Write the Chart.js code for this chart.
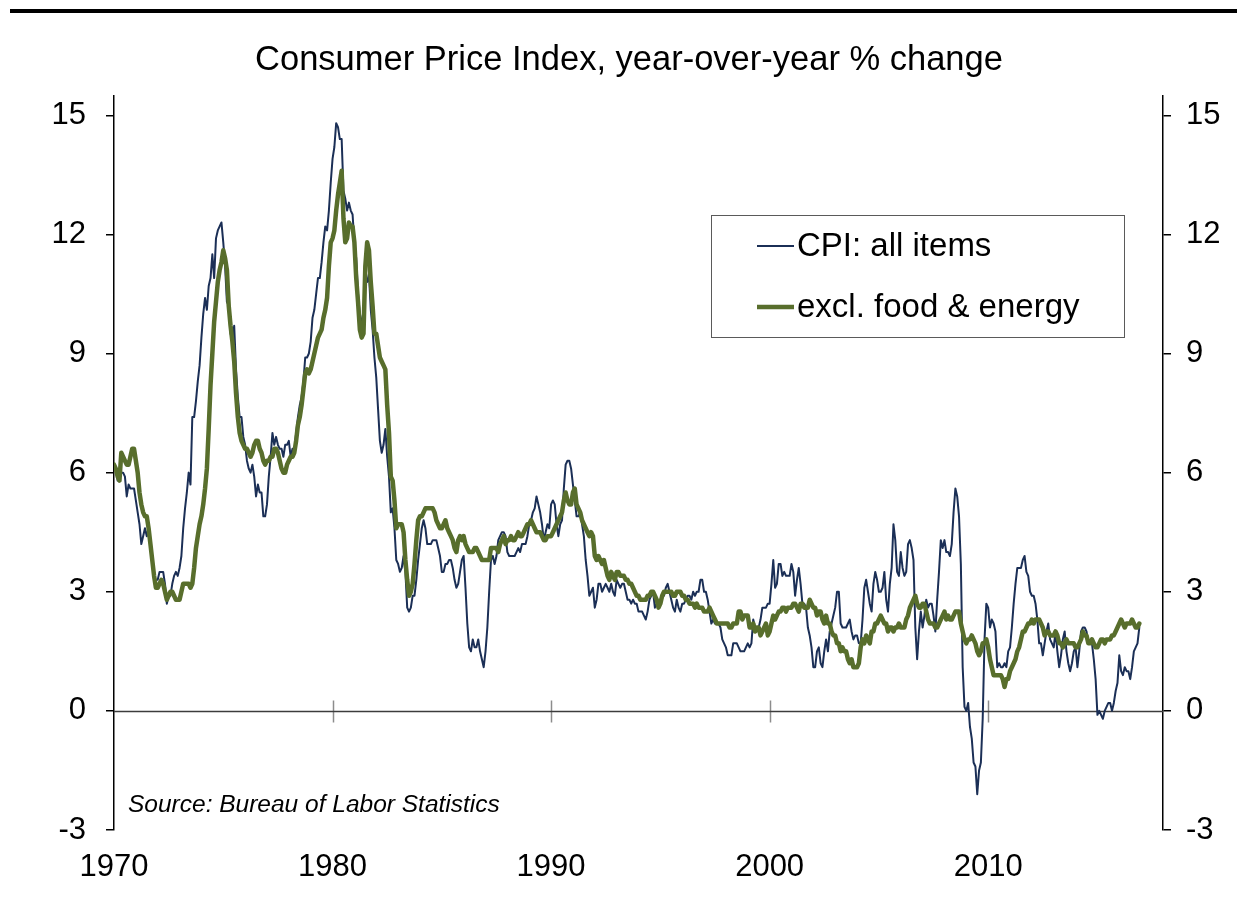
<!DOCTYPE html>
<html><head><meta charset="utf-8">
<script src="https://cdn.jsdelivr.net/npm/chart.js@4.4.1/dist/chart.umd.min.js"></script>
<style>
html,body{margin:0;padding:0;background:#fff;}
#wrap{position:relative;width:1237px;height:921px;}
</style></head><body>
<div id="wrap"><canvas id="c" width="1237" height="921"></canvas></div>
<script>
// ---- data (monthly, Jan 1970 - Dec 2016) ----
const startYear = 1970;
const seriesNames = ['CPI: all items', 'excl. food & energy'];
const titleText = 'Consumer Price Index, year-over-year % change';
const sourceText = 'Source: Bureau of Labor Statistics';
const xTickYears = [1970, 1980, 1990, 2000, 2010];
const yTickValues = [-3, 0, 3, 6, 9, 12, 15];

const cpiAll = [
6.2,6.1,5.8,6.1,6.0,6.0,5.9,5.4,5.7,5.6,5.6,5.6,
5.3,5.0,4.7,4.2,4.4,4.6,4.4,4.6,4.1,3.8,3.3,3.3,
3.3,3.5,3.5,3.5,3.2,2.7,2.9,2.9,3.2,3.4,3.5,3.4,
3.6,3.9,4.6,5.1,5.5,6.0,5.7,7.4,7.4,7.8,8.3,8.7,
9.4,10.0,10.4,10.1,10.7,10.9,11.5,10.9,11.9,12.1,12.2,12.3,
11.8,11.2,10.3,10.2,9.5,9.3,9.7,8.6,7.9,7.4,7.4,6.9,
6.7,6.3,6.1,6.0,6.2,5.9,5.4,5.7,5.5,5.5,4.9,4.9,
5.2,5.9,6.4,7.0,6.7,6.9,6.7,6.6,6.6,6.4,6.7,6.7,
6.8,6.4,6.6,6.5,7.0,7.4,7.7,7.9,8.3,8.9,8.9,9.0,
9.3,9.9,10.1,10.5,10.9,10.9,11.3,11.8,12.2,12.1,12.6,13.3,
13.9,14.2,14.8,14.7,14.4,14.4,13.1,12.9,12.6,12.8,12.6,12.5,
11.8,11.4,10.5,10.0,9.8,9.6,10.8,10.8,11.0,10.1,9.6,8.9,
8.4,7.6,6.8,6.5,6.7,7.1,6.4,5.9,5.0,5.1,4.6,3.8,
3.7,3.5,3.6,3.9,3.5,2.6,2.5,2.6,2.9,2.9,3.3,3.8,
4.2,4.6,4.8,4.6,4.2,4.2,4.2,4.3,4.3,4.3,4.1,3.9,
3.5,3.5,3.7,3.7,3.8,3.8,3.6,3.3,3.1,3.2,3.5,3.8,
3.9,3.1,2.2,1.6,1.5,1.8,1.6,1.6,1.8,1.5,1.3,1.1,
1.5,2.1,3.0,3.8,3.9,3.7,3.9,4.3,4.4,4.5,4.5,4.4,
4.0,3.9,3.9,3.9,3.9,4.0,4.1,4.0,4.2,4.2,4.2,4.4,
4.7,4.8,5.0,5.1,5.4,5.2,5.0,4.7,4.3,4.5,4.7,4.6,
5.2,5.3,5.2,4.7,4.4,4.7,4.8,5.6,6.2,6.3,6.3,6.1,
5.7,5.3,4.9,4.9,5.0,4.7,4.4,3.8,3.4,2.9,3.0,3.1,
2.6,2.8,3.2,3.2,3.0,3.1,3.2,3.1,3.0,3.2,3.0,2.9,
3.3,3.2,3.1,3.2,3.2,3.0,2.8,2.8,2.7,2.8,2.7,2.7,
2.5,2.5,2.5,2.4,2.3,2.5,2.8,2.9,3.0,2.6,2.7,2.7,
2.8,2.9,2.9,3.1,3.2,3.0,2.8,2.6,2.5,2.8,2.6,2.5,
2.7,2.7,2.8,2.9,2.9,2.8,3.0,2.9,3.0,3.0,3.3,3.3,
3.0,3.0,2.8,2.5,2.2,2.3,2.2,2.2,2.2,2.1,1.8,1.7,
1.6,1.4,1.4,1.4,1.7,1.7,1.7,1.6,1.5,1.5,1.5,1.6,
1.7,1.6,1.7,2.3,2.1,2.0,2.1,2.3,2.6,2.6,2.6,2.7,
2.7,3.2,3.8,3.1,3.2,3.7,3.7,3.4,3.5,3.4,3.4,3.4,
3.7,3.5,2.9,3.3,3.6,3.2,2.7,2.7,2.6,2.1,1.9,1.6,
1.1,1.1,1.5,1.6,1.2,1.1,1.5,1.8,1.5,2.0,2.2,2.4,
2.6,3.0,3.0,2.2,2.1,2.1,2.1,2.2,2.3,2.0,1.8,1.9,
1.9,1.7,1.7,2.3,3.1,3.3,3.0,2.7,2.5,3.2,3.5,3.3,
3.0,3.0,3.1,3.5,2.8,2.5,3.2,3.6,4.7,4.3,3.5,3.4,
4.0,3.6,3.4,3.5,4.2,4.3,4.1,3.8,2.1,1.3,2.0,2.5,
2.1,2.4,2.8,2.6,2.7,2.7,2.4,2.0,2.8,3.5,4.3,4.1,
4.3,4.0,4.0,3.9,4.2,5.0,5.6,5.4,4.9,3.7,1.1,0.1,
0.0,0.2,-0.4,-0.7,-1.3,-1.4,-2.1,-1.5,-1.3,-0.2,1.8,2.7,
2.6,2.1,2.3,2.2,2.0,1.1,1.2,1.1,1.1,1.2,1.1,1.5,
1.6,2.1,2.7,3.2,3.6,3.6,3.6,3.8,3.9,3.5,3.4,3.0,
2.9,2.9,2.7,2.3,1.7,1.7,1.4,1.7,2.0,2.2,1.8,1.7,
1.6,2.0,1.5,1.1,1.4,1.8,2.0,1.5,1.2,1.0,1.2,1.5,
1.6,1.1,1.5,2.0,2.1,2.1,2.0,1.7,1.7,1.7,1.3,0.8,
-0.1,0.0,-0.1,-0.2,0.0,0.1,0.2,0.2,0.0,0.2,0.5,0.7,
1.4,1.0,0.9,1.1,1.0,1.0,0.8,1.1,1.5,1.6,1.7,2.1
];

const cpiCore = [
6.2,6.1,5.9,5.8,6.5,6.4,6.3,6.2,6.2,6.4,6.6,6.6,
6.3,6.0,5.5,5.2,5.0,4.9,4.9,4.6,4.2,3.8,3.4,3.1,
3.1,3.2,3.3,3.2,3.0,2.8,2.9,3.0,3.0,2.9,2.8,2.8,
2.8,3.0,3.2,3.2,3.2,3.2,3.1,3.2,3.6,4.1,4.4,4.7,
4.9,5.2,5.6,6.1,7.1,8.2,9.0,9.8,10.3,10.8,11.1,11.3,
11.6,11.4,11.1,10.2,9.7,9.3,8.8,8.0,7.4,7.0,6.8,6.7,
6.6,6.6,6.5,6.4,6.5,6.7,6.8,6.8,6.6,6.5,6.3,6.2,
6.3,6.3,6.4,6.4,6.6,6.6,6.5,6.3,6.1,6.0,6.0,6.2,
6.3,6.4,6.4,6.5,6.8,7.2,7.4,7.7,8.1,8.5,8.6,8.5,
8.6,8.8,9.0,9.2,9.4,9.5,9.6,9.9,10.1,10.4,11.2,11.8,
11.9,12.1,12.6,13.0,13.3,13.6,12.4,11.8,11.9,12.3,12.2,12.2,
11.8,10.9,10.3,9.6,9.4,9.5,11.2,11.8,11.6,10.8,10.2,9.5,
9.5,9.2,8.9,8.8,8.7,8.6,7.7,7.0,5.9,5.8,5.3,4.6,
4.7,4.7,4.7,4.5,3.8,3.3,2.9,3.0,3.2,3.7,4.3,4.8,
4.9,4.9,5.0,5.1,5.1,5.1,5.1,5.1,5.0,4.8,4.7,4.6,
4.6,4.7,4.8,4.6,4.5,4.4,4.3,4.1,4.0,4.3,4.4,4.3,
4.4,4.2,4.1,4.0,4.0,4.0,4.1,4.1,4.0,3.9,3.8,3.8,
3.8,3.8,3.8,4.1,4.1,4.1,4.1,4.0,4.2,4.3,4.4,4.2,
4.3,4.3,4.4,4.3,4.3,4.4,4.5,4.4,4.4,4.5,4.6,4.7,
4.7,4.8,4.7,4.6,4.5,4.5,4.5,4.4,4.3,4.3,4.4,4.4,
4.4,4.5,4.6,4.7,4.8,4.9,5.0,5.3,5.5,5.3,5.2,5.2,
5.5,5.6,5.2,5.1,5.0,4.8,4.7,4.6,4.5,4.4,4.5,4.4,
3.9,3.8,3.9,3.8,3.7,3.8,3.6,3.4,3.3,3.5,3.4,3.3,
3.5,3.5,3.4,3.4,3.4,3.3,3.3,3.2,3.2,3.1,3.0,2.9,
2.9,2.8,2.8,2.8,2.8,2.9,2.9,3.0,3.0,2.9,2.8,2.6,
2.7,2.9,3.0,3.0,3.0,3.0,3.0,2.9,2.9,3.0,3.0,3.0,
2.9,2.9,2.8,2.8,2.7,2.7,2.7,2.6,2.7,2.6,2.6,2.6,
2.5,2.5,2.5,2.6,2.5,2.4,2.3,2.2,2.2,2.2,2.2,2.2,
2.2,2.2,2.1,2.1,2.2,2.2,2.2,2.5,2.5,2.3,2.4,2.4,
2.4,2.1,2.1,2.2,2.0,2.1,2.1,1.9,2.0,2.1,2.2,1.9,
2.0,2.2,2.4,2.3,2.4,2.5,2.5,2.6,2.6,2.5,2.6,2.6,
2.6,2.7,2.7,2.6,2.5,2.7,2.7,2.6,2.6,2.6,2.8,2.7,
2.6,2.6,2.4,2.5,2.5,2.3,2.2,2.4,2.2,2.2,2.0,1.9,
1.9,1.7,1.7,1.5,1.6,1.5,1.5,1.3,1.2,1.3,1.1,1.1,
1.1,1.2,1.6,1.8,1.7,1.9,1.8,1.7,2.0,2.0,2.2,2.2,
2.3,2.4,2.3,2.2,2.2,2.0,2.1,2.1,2.0,2.1,2.1,2.2,
2.1,2.1,2.1,2.3,2.4,2.6,2.7,2.8,2.9,2.7,2.6,2.6,
2.7,2.7,2.5,2.3,2.2,2.2,2.2,2.1,2.1,2.2,2.3,2.4,
2.5,2.3,2.4,2.3,2.3,2.4,2.5,2.5,2.5,2.2,2.0,1.8,
1.7,1.8,1.8,1.9,1.8,1.7,1.5,1.4,1.5,1.7,1.7,1.8,
1.6,1.3,1.1,0.9,0.9,0.9,0.9,0.9,0.8,0.6,0.8,0.8,
1.0,1.1,1.2,1.3,1.5,1.6,1.8,2.0,2.0,2.1,2.2,2.2,
2.3,2.2,2.3,2.3,2.3,2.2,2.1,1.9,2.0,2.0,1.9,1.9,
1.9,2.0,1.9,1.7,1.7,1.6,1.7,1.8,1.7,1.7,1.7,1.7,
1.6,1.6,1.7,1.8,2.0,1.9,1.9,1.7,1.7,1.8,1.7,1.6,
1.6,1.7,1.8,1.8,1.7,1.8,1.8,1.8,1.9,1.9,2.0,2.1,
2.2,2.3,2.2,2.1,2.2,2.2,2.2,2.3,2.2,2.1,2.1,2.2
];

// ---- styling ----
const FONT = '"Liberation Sans", Arial, sans-serif';
const CPI_COLOR = '#1b2f56';
const CORE_COLOR = '#586e2c';

function toPoints(arr) {
  return arr.map((v, i) => ({ x: startYear + i / 12, y: v }));
}

const decorations = {
  id: 'decorations',
  beforeDraw(chart) {
    const c = chart.ctx;
    c.save();
    c.fillStyle = '#fff';
    c.fillRect(0, 0, chart.width, chart.height);
    c.fillStyle = '#000';
    c.fillRect(10, 9, chart.width - 10, 4);
    c.restore();
  },
  beforeDatasetsDraw(chart) {
    const c = chart.ctx, a = chart.chartArea;
    const xs = chart.scales.x, ys = chart.scales.y;
    const y0 = Math.round(ys.getPixelForValue(0)) + 0.5;
    c.save();
    c.strokeStyle = '#8c8c8c';
    c.lineWidth = 1.5;
    xTickYears.forEach(yr => {
      if (yr === xs.min) return;
      const px = Math.round(xs.getPixelForValue(yr)) + 0.5;
      c.beginPath(); c.moveTo(px, y0 - 11); c.lineTo(px, y0 + 11); c.stroke();
    });
    c.strokeStyle = '#3c3c3c';
    c.lineWidth = 1.5;
    c.beginPath(); c.moveTo(a.left, y0); c.lineTo(a.right, y0); c.stroke();
    c.restore();
  },
  afterDraw(chart) {
    const c = chart.ctx;
    c.save();
    // legend
    const bx = 711.5, by = 215.5, bw = 413, bh = 122;
    c.strokeStyle = '#5a5a5a';
    c.lineWidth = 1;
    c.strokeRect(bx, by, bw, bh);
    const rows = [246, 307];
    chart.data.datasets.forEach((ds, i) => {
      c.strokeStyle = ds.borderColor;
      c.lineWidth = ds.borderWidth;
      c.beginPath(); c.moveTo(757, rows[i]); c.lineTo(794, rows[i]); c.stroke();
      c.fillStyle = '#000';
      c.font = '33px ' + FONT;
      c.textBaseline = 'middle';
      c.textAlign = 'left';
      c.fillText(ds.label, 797, rows[i] + 1);
    });
    // source note
    c.font = 'italic 24.5px ' + FONT;
    c.fillStyle = '#000';
    c.textBaseline = 'middle';
    c.fillText(sourceText, 128, 805);
    c.restore();
  }
};

const yCommon = {
  min: -3, max: 15.5,
  afterBuildTicks: s => { s.ticks = yTickValues.map(v => ({ value: v })); },
  grid: { drawOnChartArea: false, drawTicks: true, tickLength: 8, color: '#000', lineWidth: 1.5 },
  border: { display: true, color: '#000', width: 1.5 },
};

new Chart(document.getElementById('c'), {
  type: 'line',
  data: {
    datasets: [
      { label: seriesNames[0], data: toPoints(cpiAll), borderColor: CPI_COLOR, borderWidth: 2, order: 1 },
      { label: seriesNames[1], data: toPoints(cpiCore), borderColor: CORE_COLOR, borderWidth: 4.5, order: 0 }
    ]
  },
  options: {
    responsive: false,
    animation: false,
    devicePixelRatio: 1,
    layout: { padding: { left: 21, right: 0, top: 40, bottom: 35 } },
    elements: {
      point: { radius: 0, hoverRadius: 0 },
      line: { tension: 0, borderJoinStyle: 'round', borderCapStyle: 'round', fill: false }
    },
    plugins: {
      legend: { display: false },
      tooltip: { enabled: false },
      title: {
        display: true, text: titleText, color: '#000',
        font: { family: FONT, size: 34.5, weight: 'normal', lineHeight: 1.2 },
        padding: { top: 0, bottom: 14 }
      }
    },
    scales: {
      x: {
        type: 'linear', min: 1970, max: 2018,
        afterBuildTicks: s => { s.ticks = xTickYears.map(v => ({ value: v })); },
        afterFit: s => { s.height = 56; },
        grid: { display: false, drawTicks: false },
        border: { display: false },
        ticks: { font: { family: FONT, size: 31 }, color: '#000', padding: 19, maxRotation: 0,
                 callback: v => String(v) }
      },
      y: Object.assign({}, yCommon, {
        position: 'left',
        afterFit: s => { s.width = 93; },
        ticks: { font: { family: FONT, size: 31 }, color: '#000', padding: 20 }
      }),
      y2: Object.assign({}, yCommon, {
        position: 'right',
        afterFit: s => { s.width = 74; },
        ticks: { font: { family: FONT, size: 31 }, color: '#000', padding: 15 }
      })
    }
  },
  plugins: [decorations]
});
</script>
</body></html>
